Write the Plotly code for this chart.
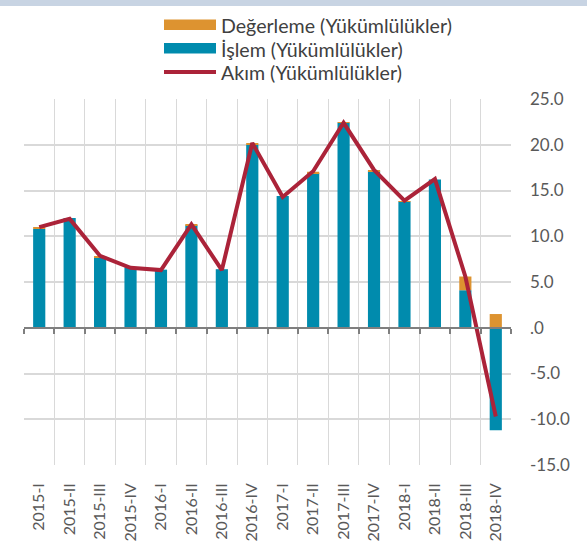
import plotly.graph_objects as go

categories = ["2015-I", "2015-II", "2015-III", "2015-IV",
              "2016-I", "2016-II", "2016-III", "2016-IV",
              "2017-I", "2017-II", "2017-III", "2017-IV",
              "2018-I", "2018-II", "2018-III", "2018-IV"]
islem = [10.8, 12.0, 7.7, 6.6, 6.35, 11.2, 6.4, 20.0,
         14.4, 16.9, 22.4, 17.1, 13.8, 16.2, 4.1, -11.2]
degerleme = [0.2, -0.1, 0.1, -0.1, -0.05, 0.1, -0.1, 0.15,
             -0.15, 0.15, 0.05, 0.1, 0.05, -0.05, 1.5, 1.5]
akim = [11.0, 11.9, 7.85, 6.55, 6.3, 11.3, 6.3, 20.2,
        14.3, 17.1, 22.4, 17.25, 13.9, 16.25, 5.6, -9.7]

y_ticks = [-15, -10, -5, 0, 5, 10, 15, 20, 25]
y_ticktext = ["-15.0", "-10.0", "-5.0", ".0", "5.0", "10.0", "15.0", "20.0", "25.0"]

names = ["Değerleme (Yükümlülükler)", "İşlem (Yükümlülükler)", "Akım (Yükümlülükler)"]

BLUE = "#008BAD"
ORANGE = "#DD9330"
RED = "#AB2339"
GRID = "#D9D9D9"
TXT = "#595959"
FONT = "Lato"

W, H = 587, 556
L, R, T, B = 24, 76, 99, 91

fig = go.Figure()
fig.add_trace(go.Bar(x=categories, y=islem, name=names[1], marker_color=BLUE,
                     marker_line_width=0, width=0.4, showlegend=False))
fig.add_trace(go.Bar(x=categories, y=degerleme, name=names[0], marker_color=ORANGE,
                     marker_line_width=0, width=0.4, showlegend=False))
fig.add_trace(go.Scatter(x=categories, y=akim, name=names[2], mode="lines",
                         line=dict(color=RED, width=4), xaxis="x2", showlegend=False))

def px_x(p):
    return (p - L) / (W - L - R)

def px_y(p):
    return (H - B - p) / (H - T - B)

shapes = [
    dict(type="rect", xref="paper", yref="paper", x0=px_x(-2), x1=px_x(W + 2),
         y0=px_y(6), y1=px_y(-2), fillcolor="#C8D4E3", line_width=0, layer="above"),
    dict(type="rect", xref="paper", yref="paper", x0=px_x(164), x1=px_x(216),
         y0=px_y(30), y1=px_y(19.5), fillcolor=ORANGE, line_width=0),
    dict(type="rect", xref="paper", yref="paper", x0=px_x(164), x1=px_x(216),
         y0=px_y(53.5), y1=px_y(43), fillcolor=BLUE, line_width=0),
    dict(type="line", xref="paper", yref="paper", x0=px_x(164), x1=px_x(216),
         y0=px_y(72), y1=px_y(72), line=dict(color=RED, width=4)),
]
annotations = []
for nm, yy in zip(names, [25, 49, 72]):
    annotations.append(dict(xref="paper", yref="paper", x=px_x(219), y=px_y(yy),
                            text=nm, showarrow=False, xanchor="left", yanchor="middle",
                            font=dict(family=FONT, size=19.6, color="#404040")))

fig.update_layout(
    width=W, height=H,
    margin=dict(l=L, r=R, t=T, b=B, autoexpand=False),
    paper_bgcolor="white", plot_bgcolor="white",
    barmode="relative",
    bargap=0.6,
    showlegend=False,
    shapes=shapes,
    annotations=annotations,
    font=dict(family=FONT, color=TXT),
    xaxis=dict(type="category", range=[-0.5, 15.5], tickson="boundaries",
               showgrid=True, gridcolor=GRID, gridwidth=1, ticks="",
               tickangle=-90, tickfont=dict(family=FONT, size=16, color=TXT),
               ticklabelstandoff=14, showline=False, zeroline=False, automargin=False),
    xaxis2=dict(type="category", range=[-0.5, 15.5], overlaying="x", anchor="free",
                position=0.375, side="bottom", tickson="boundaries", ticks="outside",
                ticklen=5, tickwidth=1.5, tickcolor="#7F7F7F",
                showticklabels=False, showgrid=False, showline=True,
                linecolor="#7F7F7F", linewidth=1.5, zeroline=False, automargin=False),
    yaxis=dict(range=[-15, 25], side="right", tickvals=y_ticks, ticktext=y_ticktext,
               showgrid=True, gridcolor=GRID, gridwidth=1.5, zeroline=False,
               showline=False, ticks="", ticklabelstandoff=18, automargin=False,
               tickfont=dict(family=FONT, size=17, color=TXT)),
)

fig.write_html("out.html", config={"displayModeBar": False},
               post_script="document.body.style.margin='0';document.body.style.overflow='hidden';")
